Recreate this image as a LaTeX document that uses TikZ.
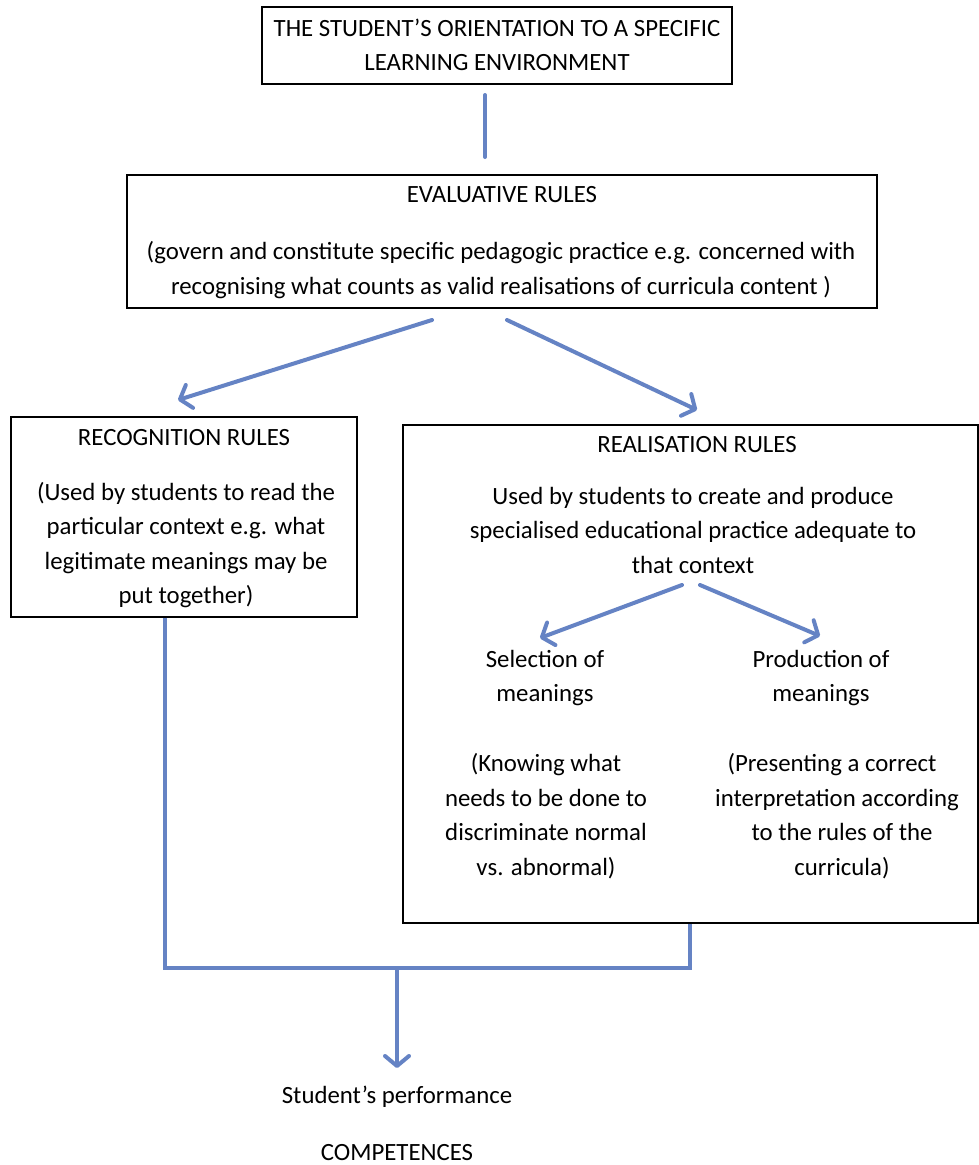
\documentclass[tikz,border=0pt]{standalone}
\usepackage{fontspec}
\setmainfont{Carlito}
\usetikzlibrary{arrows.meta,fit,calc}
\definecolor{conblue}{RGB}{101,131,196}
\tikzset{
  box/.style={draw=black, line width=1.1pt, inner sep=0pt},
  txt/.style={font=\fontsize{24.8}{34.5}\selectfont, align=center, inner sep=0pt, text=black},
  conn/.style={draw=conblue, line width=4pt, line cap=round},
  arr/.style={conn, -{Straight Barb[length=10pt,width=24pt,line cap=round,line join=round]}}
}
\begin{document}
\begin{tikzpicture}[x=1pt,y=-1pt]
\useasboundingbox (0,0) rectangle (979,1165);
% boxes
\node[box, fit={(262,7)(732,84)}] (top) {};
\node[box, fit={(127,175)(877,308)}] (eval) {};
\node[box, fit={(11,417)(357,617)}] (recog) {};
\node[box, fit={(403,425)(978,923)}] (real) {};
% texts
\node[txt] (toptxt) at (497,45) {THE STUDENT’S ORIENTATION TO A SPECIFIC\\LEARNING ENVIRONMENT};
\node[txt] (evalhead) at (502,195) {EVALUATIVE RULES};
\node[txt] (evaltxt) at (501,270) {(govern and constitute specific pedagogic practice e.g. concerned with\\recognising what counts as valid realisations of curricula content )};
\node[txt] (recoghead) at (184,438) {RECOGNITION RULES};
\node[txt] (recogtxt) at (186,545) {(Used by students to read the\\particular context e.g. what\\legitimate meanings may be\\put together)};
\node[txt] (realhead) at (697,445) {REALISATION RULES};
\node[txt] (realtxt) at (693,530) {Used by students to create and produce\\specialised educational practice adequate to\\that context};
\node[txt] (sel) at (545,678) {Selection of\\meanings};
\node[txt] (seltxt) at (546,816) {(Knowing what\\needs to be done to\\discriminate normal\\vs. abnormal)};
\node[txt] (prod) at (821,678) {Production of\\meanings};
\node[txt] (prodtxt) at (837,816) {(Presenting a correct\hspace*{10pt}\\interpretation according\hspace*{10pt}\\\hspace*{10pt}to the rules of the\\\hspace*{10pt}curricula)};
\node[txt] (perf) at (397,1097) {Student’s performance};
\node[txt] (comp) at (397,1153) {COMPETENCES};
% connector coordinates
\coordinate (t1) at (485,95);
\coordinate (t2) at (485,157);
\coordinate (e1) at (432,320);
\coordinate (e2) at (507,320);
\coordinate (l1) at (178,400);
\coordinate (r1) at (697,410);
\coordinate (s0) at (682,585);
\coordinate (s1) at (540,638);
\coordinate (p0) at (700,585);
\coordinate (p1) at (820,636);
\coordinate (jl) at (165,968);
\coordinate (jr) at (690,968);
\coordinate (jm) at (397,968);
\coordinate (down) at (397,1068);
% connectors
\draw[conn] (t1) -- (t2);
\draw[arr] (e1) -- (l1);
\draw[arr] (e2) -- (r1);
\draw[arr] (s0) -- (s1);
\draw[arr] (p0) -- (p1);
\draw[conn, line cap=butt] (recog.south -| jl) -- (jl) -- (jr) -- (real.south -| jr);
\draw[arr] (jm) -- (down);
\end{tikzpicture}
\end{document}
